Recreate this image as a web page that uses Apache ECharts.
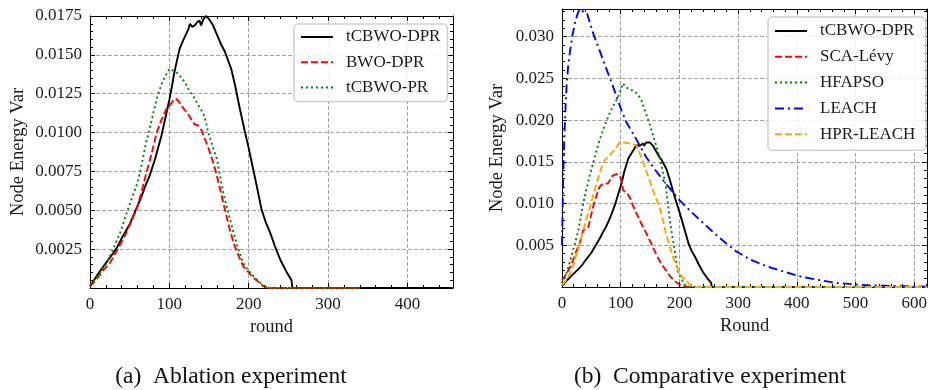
<!DOCTYPE html>
<html>
<head>
<meta charset="utf-8">
<script src="https://cdn.jsdelivr.net/npm/echarts@6/dist/echarts.min.js"></script>
<style>html,body{margin:0;padding:0;background:#fff}#c{width:930px;height:390px}</style>
</head>
<body>
<div id="c"></div>
<script>
// ---------- data ----------
const dprRound = [0,10,20,30,34,40,50,60,65,70,75,82,90,97,100,103,106,109,113,118,124,126,129,132,135,138,140,143,146,150,155,160,165,170,178,183,189,195,200,205,210,216,221,227,233,240,247,254,255,300,400,457];
const dprVar   = [0.0001,0.0009,0.0016,0.0023,0.0026,0.0032,0.0041,0.0053,0.0059,0.0066,0.0072,0.0083,0.0098,0.0114,0.0121,0.0129,0.0138,0.0145,0.0154,0.0160,0.01665,0.0170,0.0168,0.0169,0.0171,0.0172,0.0169,0.0173,0.0175,0.0173,0.0169,0.0163,0.0157,0.0152,0.0141,0.0130,0.0115,0.0101,0.0090,0.0078,0.0066,0.0051,0.0043,0.00356,0.0027,0.0018,0.0011,0.0005,0,0,0,0];

const bwoRound = [0,8,16,25,35,46,53,59,65,71,78,84,90,96,100,104,108,112,117,122,126,130,133,136,140,145,150,155,160,164,168,172,176,181,187,193,200,206,212,219,225,340];
const bwoVar   = [0.0001,0.00055,0.0011,0.0016,0.0025,0.00356,0.0044,0.0051,0.0062,0.0074,0.0087,0.0100,0.0108,0.0115,0.0117,0.0120,0.0122,0.0120,0.0116,0.0113,0.0110,0.01064,0.0105,0.01047,0.0102,0.00957,0.0089,0.0081,0.0072,0.00635,0.0055,0.00463,0.0038,0.0029,0.0021,0.0014,0.0010,0.00066,0.0004,0.0001,0,0];

const prRound = [0,10,21,30,38,46,55,60,65,70,74,80,84,90,95,100,104,109,115,120,125,130,136,143,146,149,154,160,164,168,174,181,187,193,200,206,213,221,226,340];
const prVar   = [0.0002,0.0008,0.0016,0.0026,0.00356,0.0048,0.0061,0.0068,0.0079,0.0092,0.0100,0.0113,0.01215,0.0131,0.01365,0.0141,0.0140,0.01387,0.01355,0.0132,0.0127,0.01236,0.0118,0.0112,0.0107,0.0100,0.0092,0.0083,0.0072,0.0061,0.0049,0.00356,0.0025,0.0016,0.0011,0.00076,0.0004,0.0001,0,0];

const scaRound = [0,6,14,20,25,30,34,36,40,45,49,53,58,64,68,73,78,81,84,88,93,98,101,104,110,115,120,127,135,144,152,160,168,177,185,194,200,206,215,622];
const scaVar   = [0.0008,0.0014,0.0024,0.0034,0.0044,0.0052,0.0062,0.0068,0.0069,0.0072,0.0084,0.0096,0.0108,0.0120,0.0123,0.0124,0.0124,0.0127,0.0132,0.0134,0.01352,0.0134,0.0128,0.0116,0.0113,0.0108,0.0099,0.0088,0.0076,0.0064,0.0052,0.0040,0.0029,0.0020,0.0012,0.0006,0.0003,0.0001,0,0];

const hfaRound = [0,6,11,19,28,36,42,48,56,64,72,81,88,93,98,104,108,112,118,124,130,135,142,149,157,166,172,177,180,183,187,192,197,203,211,218,622];
const hfaVar   = [0.0005,0.0013,0.0024,0.0044,0.0068,0.0100,0.0118,0.0136,0.0156,0.0176,0.0192,0.0208,0.0218,0.0224,0.0232,0.0244,0.0240,0.0238,0.0236,0.0234,0.0230,0.0224,0.0210,0.0196,0.0177,0.0156,0.0138,0.0120,0.0102,0.0084,0.0064,0.0044,0.0020,0.0010,0.0001,0,0];

const leachRound = [0,2,4,6,8,11,14,18,22,26,30,34,37,40,43,46,53,60,70,80,87,95,101,110,121,132,143,157,172,186,200,220,240,260,280,296,320,352,380,409,440,466,500,522,550,578,622];
const leachVar   = [0.0050,0.0130,0.0180,0.0215,0.0244,0.0268,0.0284,0.0302,0.0316,0.0326,0.0333,0.0332,0.0328,0.0326,0.0327,0.0320,0.0304,0.0291,0.0272,0.0253,0.0240,0.0224,0.0212,0.0197,0.0184,0.0170,0.0156,0.0142,0.0128,0.0116,0.0104,0.0090,0.0077,0.0064,0.0052,0.0043,0.0033,0.0024,0.0018,0.0012,0.0008,0.0005,0.0003,0.0002,0.00015,0.0001,0.00005];

const hprRound = [0,7,14,20,25,31,36,42,48,53,59,64,70,74,79,84,87,92,96,100,105,110,115,120,126,130,135,142,149,157,166,172,177,183,189,195,200,205,211,216,220,226,622];
const hprVar   = [0.0002,0.0008,0.0016,0.0028,0.0040,0.0054,0.0068,0.0082,0.0096,0.0110,0.0124,0.0136,0.0148,0.0153,0.0156,0.0160,0.0162,0.0166,0.0171,0.0174,0.0173,0.01728,0.0172,0.0171,0.0170,0.0164,0.0156,0.0142,0.0128,0.0112,0.0096,0.0080,0.0064,0.0050,0.0036,0.0025,0.0016,0.0012,0.0008,0.0004,0.0002,0,0];

const xTicksA = [0,100,200,300,400];
const xTicksB = [0,100,200,300,400,500,600];

// ---------- helpers ----------
const FONT = '"Liberation Serif", "DejaVu Serif", serif';
const pairs = (xs, ys) => xs.map((x, i) => [x, ys[i]]);

function xAx(grid, max, pos, labels) {
  return {
    type: 'value', gridIndex: grid, min: 0, max: max, interval: 100, position: pos,
    axisLine: { show: true, onZero: false, lineStyle: { color: '#000', width: 1 } },
    axisTick: { show: true, inside: true, length: 5, lineStyle: { color: '#000' } },
    minorTick: { show: true, splitNumber: 5, length: 3, lineStyle: { color: '#000' } },
    splitLine: { show: labels, lineStyle: { color: '#9a9a9a', type: [4, 2], width: 0.9 } },
    axisLabel: { show: labels, margin: 8, color: '#1a1a1a', fontFamily: FONT, fontSize: 17, showMaxLabel: false },
    name: labels ? (grid === 0 ? 'round' : 'Round') : '',
    nameLocation: 'middle', nameGap: 30,
    nameTextStyle: { color: '#1a1a1a', fontFamily: FONT, fontSize: 18.5 }
  };
}
function yAx(grid, max, interval, dec, pos, labels, gap) {
  return {
    type: 'value', gridIndex: grid, min: 0, max: max, interval: interval, position: pos,
    axisLine: { show: true, onZero: false, lineStyle: { color: '#000', width: 1 } },
    axisTick: { show: true, inside: true, length: 5, lineStyle: { color: '#000' } },
    minorTick: { show: true, splitNumber: 5, length: 3, lineStyle: { color: '#000' } },
    splitLine: { show: labels, lineStyle: { color: '#9a9a9a', type: [4, 2], width: 0.9 } },
    axisLabel: { show: labels, margin: 8, color: '#1a1a1a', fontFamily: FONT, fontSize: 17,
      showMinLabel: false, showMaxLabel: dec === 4, formatter: v => v.toFixed(dec) },
    name: labels ? 'Node Energy Var' : '',
    nameLocation: 'middle', nameGap: gap, nameRotate: 90,
    nameTextStyle: { color: '#1a1a1a', fontFamily: FONT, fontSize: 18.5 }
  };
}
function ser(name, data, xi, yi, color, type, w) {
  return {
    name: name, type: 'line', xAxisIndex: xi, yAxisIndex: yi, data: data,
    symbol: 'none', smooth: false, animation: false, z: 3,
    lineStyle: { color: color, width: w || 1.9, type: type },
    itemStyle: { color: color }
  };
}
const legendCommon = {
  orient: 'vertical', itemWidth: 32, itemHeight: 14,
  backgroundColor: 'rgba(255,255,255,0.85)', borderColor: '#cfcfcf', borderWidth: 1.5, borderRadius: 4,
  itemStyle: { color: 'rgba(0,0,0,0)', borderColor: 'rgba(0,0,0,0)', borderWidth: 0, opacity: 0 },
  textStyle: { fontFamily: FONT, fontSize: 17, color: '#1a1a1a', lineHeight: 18, padding: [0, 0, 0, 8] },
  selectedMode: false
};

const option = {
  backgroundColor: '#fff',
  animation: false,
  grid: [
    { left: 90, top: 16, width: 363, height: 272, containLabel: false },
    { left: 562, top: 9, width: 367, height: 278, containLabel: false }
  ],
  xAxis: [
    xAx(0, 457.5, 'bottom', true), xAx(0, 457.5, 'top', false),
    xAx(1, 622, 'bottom', true), xAx(1, 622, 'top', false)
  ],
  yAxis: [
    yAx(0, 0.0175, 0.0025, 4, 'left', true, 62.5), yAx(0, 0.0175, 0.0025, 4, 'right', false, 0),
    yAx(1, 0.0333, 0.005, 3, 'left', true, 55.5), yAx(1, 0.0333, 0.005, 3, 'right', false, 0)
  ],
  legend: [
    Object.assign({}, legendCommon, { left: 294, top: 24, itemGap: 7.3, padding: [4, 7, 5, 6],
      data: ['tCBWO-DPR', 'BWO-DPR', 'tCBWO-PR'] }),
    Object.assign({}, legendCommon, { left: 768, top: 17, itemGap: 7.8, padding: [5, 7, 7, 6],
      data: ['tCBWO-DPR ', 'SCA-Lévy', 'HFAPSO', 'LEACH', 'HPR-LEACH'] })
  ],
  series: [
    ser('tCBWO-DPR', pairs(dprRound, dprVar), 0, 0, '#000000', 'solid'),
    ser('BWO-DPR', pairs(bwoRound, bwoVar), 0, 0, '#ff0000', [7, 3]),
    ser('tCBWO-PR', pairs(prRound, prVar), 0, 0, '#008000', [2, 3]),
    ser('tCBWO-DPR ', pairs(dprRound, dprVar), 2, 2, '#000000', 'solid'),
    ser('SCA-Lévy', pairs(scaRound, scaVar), 2, 2, '#ff0000', [7, 3]),
    ser('HFAPSO', pairs(hfaRound, hfaVar), 2, 2, '#008000', [2, 3]),
    ser('LEACH', pairs(leachRound, leachVar), 2, 2, '#0000ff', [9, 4, 2, 4]),
    ser('HPR-LEACH', pairs(hprRound, hprVar), 2, 2, '#ffa500', [7, 3])
  ],
  graphic: [
    { type: 'text', x: 231, y: 377, style: { text: '(a)  Ablation experiment', font: '23.5px ' + FONT, fill: '#111', textAlign: 'center', textVerticalAlign: 'middle' } },
    { type: 'text', x: 710, y: 377, style: { text: '(b)  Comparative experiment', font: '23.5px ' + FONT, fill: '#111', textAlign: 'center', textVerticalAlign: 'middle' } }
  ]
};
const chart = echarts.init(document.getElementById('c'), null, { renderer: 'canvas' });
chart.setOption(option);
</script>
</body>
</html>
